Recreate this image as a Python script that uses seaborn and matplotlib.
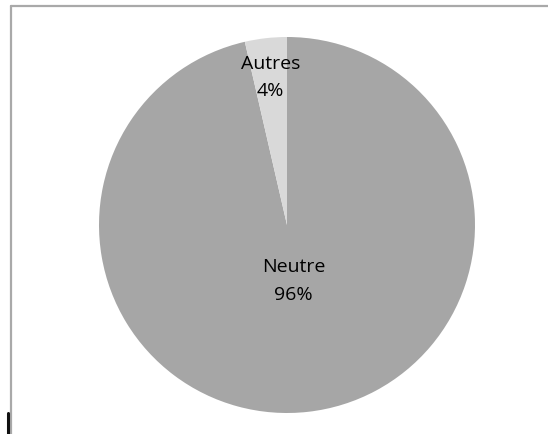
import matplotlib
matplotlib.use("Agg")
import matplotlib.pyplot as plt
import seaborn as sns
import numpy as np
from matplotlib.lines import Line2D

categories = ["Neutre", "Autres"]
values = [96.4, 3.6]
colors = ["#A6A6A6", "#D9D9D9"]

sns.set_style("white")
plt.rcParams['font.family'] = ['Open Sans', 'DejaVu Sans']

W, H = 548, 434
fig = plt.figure(figsize=(W / 100, H / 100), dpi=100)
fig.patch.set_facecolor("white")

cx, cy, r = 287, 225, 188
ax = fig.add_axes([(cx - r) / W, (H - cy - r) / H, 2 * r / W, 2 * r / H])
wedges, _ = ax.pie(values, colors=colors, startangle=90, counterclock=False,
                   radius=1.0, wedgeprops=dict(linewidth=0))
ax.set_xlim(-1, 1)
ax.set_ylim(-1, 1)
ax.set_aspect("equal")
ax.axis("off")

total = sum(values)
label_dist = [0.30, 0.79]
for w, cat, v, d in zip(wedges, categories, values, label_dist):
    ang = np.deg2rad((w.theta1 + w.theta2) / 2)
    ax.text(d * np.cos(ang), d * np.sin(ang), f"{cat}\n{round(100 * v / total)}%",
            ha="center", va="center", fontsize=14, color="#000000", linespacing=1.7)

# chart area border (partially visible)
bc = "#A9A9A9"
fig.add_artist(Line2D([10.5 / W, 10.5 / W], [0, 1 - 5.5 / H], color=bc, lw=1.6, transform=fig.transFigure))
fig.add_artist(Line2D([10.5 / W, 1], [1 - 5.5 / H, 1 - 5.5 / H], color=bc, lw=1.6, transform=fig.transFigure))
# small cursor mark at bottom-left
fig.add_artist(Line2D([7.5 / W, 7.5 / W], [0, 21 / H], color="#111111", lw=2.2, transform=fig.transFigure))

fig.savefig("out.png", dpi=100, facecolor="white")
